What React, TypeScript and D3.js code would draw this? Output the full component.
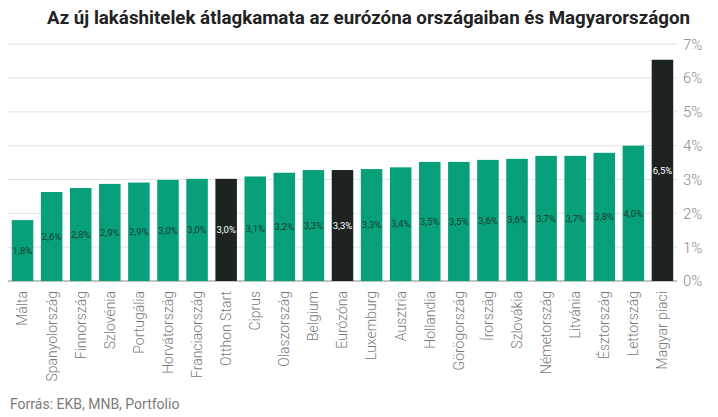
import React, { useEffect, useRef } from 'react';
import * as d3 from 'd3';

const countries = [
  'Málta', 'Spanyolország', 'Finnország', 'Szlovénia', 'Portugália', 'Horvátország',
  'Franciaország', 'Otthon Start', 'Ciprus', 'Olaszország', 'Belgium', 'Eurózóna',
  'Luxemburg', 'Ausztria', 'Hollandia', 'Görögország', 'Írország', 'Szlovákia',
  'Németország', 'Litvánia', 'Észtország', 'Lettország', 'Magyar piaci',
];
const rates = [
  1.8, 2.63, 2.75, 2.87, 2.91, 2.99, 3.02, 3.02, 3.09, 3.2, 3.28, 3.28,
  3.31, 3.36, 3.52, 3.52, 3.58, 3.61, 3.7, 3.7, 3.79, 4.0, 6.54,
];
const highlighted = ['Otthon Start', 'Eurózóna', 'Magyar piaci'];
const yTicks = [0, 1, 2, 3, 4, 5, 6, 7];

const WIDTH = 718;
const HEIGHT = 417;
const GREEN = '#07a07a';
const DARK = '#1c2321';

export default function App() {
  const ref = useRef<SVGSVGElement>(null);

  useEffect(() => {
    const svg = d3.select(ref.current);
    svg.selectAll('*').remove();

    const x = d3.scaleBand<string>()
      .domain(countries)
      .range([8, 677])
      .paddingInner(0.26)
      .paddingOuter(0.13);
    const y = d3.scaleLinear().domain([0, 7]).range([281, 44.2]);
    const fmt = (v: number) => d3.format('.1f')(v).replace('.', ',') + '%';

    svg.append('text')
      .attr('x', 47)
      .attr('y', 24)
      .attr('textLength', 643)
      .attr('lengthAdjust', 'spacingAndGlyphs')
      .style('font-family', 'Roboto, sans-serif')
      .style('font-weight', 700)
      .style('font-size', '18px')
      .style('fill', '#222')
      .text('Az új lakáshitelek átlagkamata az eurózóna országaiban és Magyarországon');

    // gridlines + right-hand axis
    const grid = svg.append('g');
    grid.selectAll('line')
      .data(yTicks)
      .enter().append('line')
      .attr('x1', 8)
      .attr('x2', 677)
      .attr('y1', d => y(d))
      .attr('y2', d => y(d))
      .attr('stroke', d => (d === 0 ? '#888' : '#e2e2e2'))
      .attr('stroke-width', 1);
    grid.selectAll('text')
      .data(yTicks)
      .enter().append('text')
      .attr('x', 683)
      .attr('y', d => y(d))
      .attr('dy', '0.36em')
      .style('font-family', 'Roboto, sans-serif')
      .style('font-weight', 300)
      .style('font-size', '15px')
      .style('fill', '#8a8a8a')
      .text(d => `${d}%`);

    const data = countries.map((c, i) => ({ name: c, value: rates[i] }));

    const bars = svg.append('g').selectAll('g.bar')
      .data(data)
      .enter().append('g')
      .attr('class', 'bar');

    bars.append('rect')
      .attr('x', d => x(d.name) as number)
      .attr('width', x.bandwidth())
      .attr('y', d => y(d.value))
      .attr('height', d => y(0) - y(d.value))
      .attr('fill', d => (highlighted.includes(d.name) ? DARK : GREEN));

    bars.append('text')
      .attr('x', d => (x(d.name) as number) + x.bandwidth() / 2)
      .attr('y', d => (y(d.value) + y(0)) / 2)
      .attr('dy', '0.35em')
      .attr('text-anchor', 'middle')
      .style('font-family', 'Roboto, sans-serif')
      .style('font-size', '9.5px')
      .style('fill', d => (highlighted.includes(d.name) ? '#fff' : '#1d3b31'))
      .text(d => fmt(d.value));

    // rotated category labels
    svg.append('g').selectAll('text')
      .data(countries)
      .enter().append('text')
      .attr('transform', d => `translate(${(x(d) as number) + x.bandwidth() / 2},291) rotate(-90)`)
      .attr('dy', '0.35em')
      .attr('text-anchor', 'end')
      .style('font-family', 'Roboto, sans-serif')
      .style('font-weight', 300)
      .style('font-size', '14px')
      .style('fill', '#7a7a7a')
      .text(d => d);

    svg.append('text')
      .attr('x', 10)
      .attr('y', 409)
      .style('font-family', 'Roboto, sans-serif')
      .style('font-size', '14px')
      .style('fill', '#7a7a7a')
      .text('Forrás: EKB, MNB, Portfolio');
  }, []);

  return (
    <svg
      ref={ref}
      width={WIDTH}
      height={HEIGHT}
      style={{ position: 'absolute', left: 0, top: 0, background: '#fff' }}
    />
  );
}
